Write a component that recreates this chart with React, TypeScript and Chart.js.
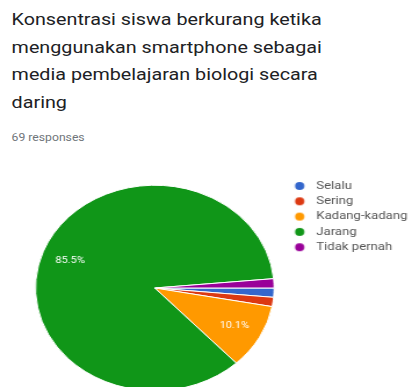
import React, { useEffect, useRef } from "react";
import { Chart, registerables } from "chart.js";

Chart.register(...registerables);

const titleLines = [
  "Konsentrasi siswa berkurang ketika",
  "menggunakan smartphone sebagai",
  "media pembelajaran biologi secara",
  "daring",
];
const responsesText = "69 responses";
const categories = ["Selalu", "Sering", "Kadang-kadang", "Jarang", "Tidak pernah"];
const counts = [1, 1, 7, 59, 1];
const colors = ["#3366cc", "#dc3912", "#ff9900", "#109618", "#990099"];

const SX = 412 / 355;
const LEGEND_FONT = 11.3;
const DOT_BOX_W = 26.25;

function makeDot(color: string): HTMLCanvasElement {
  const c = document.createElement("canvas");
  c.width = 26;
  c.height = 10;
  const g = c.getContext("2d")!;
  g.fillStyle = color;
  g.beginPath();
  g.arc(17.4, 5, 4, 0, Math.PI * 2);
  g.fill();
  return c;
}

const pctLabels = {
  id: "pctLabels",
  afterDatasetsDraw(chart: any) {
    const ctx = chart.ctx;
    const meta = chart.getDatasetMeta(0);
    const data = chart.data.datasets[0].data as number[];
    const total = data.reduce((a, b) => a + b, 0);
    ctx.save();
    ctx.fillStyle = "#ffffff";
    ctx.font = "9.5px Roboto";
    ctx.textAlign = "center";
    ctx.textBaseline = "middle";
    meta.data.forEach((arc: any, i: number) => {
      const frac = data[i] / total;
      if (frac < 0.05) return;
      const p = arc.getProps(["x", "y", "startAngle", "endAngle", "outerRadius"], true);
      const a = (p.startAngle + p.endAngle) / 2;
      const r = p.outerRadius * 0.76;
      ctx.fillText((frac * 100).toFixed(1) + "%", p.x + Math.cos(a) * r, p.y + Math.sin(a) * r);
    });
    ctx.restore();
  },
};

export default function App() {
  const ref = useRef<HTMLCanvasElement>(null);
  useEffect(() => {
    document.body.style.margin = "0";
    const dots = colors.map(makeDot);
    const chart = new Chart(ref.current!, {
      type: "pie",
      data: {
        labels: categories,
        datasets: [
          {
            data: counts,
            backgroundColor: colors,
            borderColor: "#ffffff",
            borderWidth: 1,
          },
        ],
      },
      options: {
        animation: false,
        responsive: true,
        maintainAspectRatio: false,
        rotation: 90,
        layout: { padding: { left: 30.1, right: 19, top: 6.35, bottom: 0.35 } },
        plugins: {
          tooltip: { enabled: false },
          legend: {
            position: "right",
            align: "start",
            labels: {
              usePointStyle: true,
              pointStyleWidth: DOT_BOX_W,
              boxHeight: 8,
              padding: 4,
              color: "#555555",
              font: { family: "Roboto", size: LEGEND_FONT },
              generateLabels: (c: any) =>
                c.data.labels.map((t: string, i: number) => ({
                  text: t,
                  fillStyle: colors[i],
                  strokeStyle: colors[i],
                  fontColor: "#555555",
                  lineWidth: 0,
                  pointStyle: dots[i],
                  hidden: false,
                  index: i,
                })),
            },
          },
        },
      },
      plugins: [pctLabels],
    });
    return () => chart.destroy();
  }, []);

  return (
    <div
      style={{
        position: "absolute",
        left: 0,
        top: 0,
        width: 355,
        height: 420,
        transform: `scaleX(${SX})`,
        transformOrigin: "0 0",
        background: "#fff",
        overflow: "hidden",
      }}
    >
      <div
        style={{
          position: "absolute",
          left: 10,
          top: 6,
          fontFamily: "Roboto",
          fontSize: 17,
          lineHeight: "27.5px",
          color: "#202124",
          whiteSpace: "nowrap",
        }}
      >
        {titleLines.map((l, i) => (
          <div key={i}>{l}</div>
        ))}
      </div>
      <div
        style={{
          position: "absolute",
          left: 10,
          top: 131,
          fontFamily: "Roboto",
          fontSize: 10.5,
          color: "#70757a",
          whiteSpace: "nowrap",
        }}
      >
        {responsesText}
      </div>
      <div style={{ position: "absolute", left: 0, top: 170, width: 380, height: 230 }}>
        <canvas ref={ref} />
      </div>
    </div>
  );
}
